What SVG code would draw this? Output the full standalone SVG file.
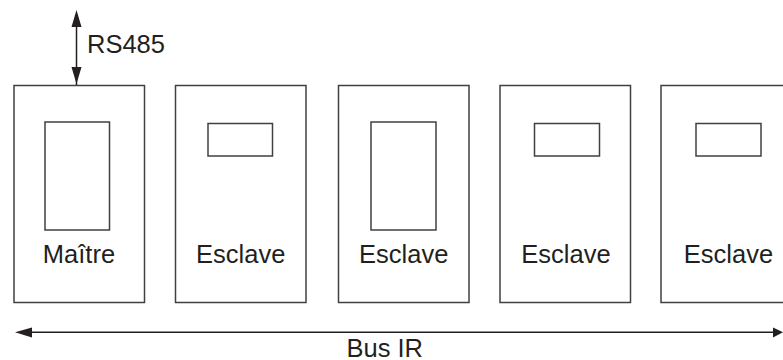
<svg xmlns="http://www.w3.org/2000/svg" width="783" height="360" viewBox="0 0 783 360">
<style>
.box{fill:#fff;stroke:#404040;stroke-width:1.5}
.lbl{font-family:"Liberation Sans",Arial,sans-serif;font-size:25.5px;fill:#231f20}
.ln{stroke:#231f20;stroke-width:1.5;fill:none}
.ah{fill:#231f20;stroke:none}
</style>
<rect width="783" height="360" fill="#fff"/>
<g id="master">
<rect class="box" x="14" y="85.5" width="130.5" height="217"/>
<rect class="box" x="45" y="122" width="64.5" height="108"/>
<text class="lbl" x="79" y="262.5" text-anchor="middle">Maître</text>
</g>
<g id="slave1">
<rect class="box" x="175.5" y="85.5" width="130.5" height="217"/>
<rect class="box" x="208" y="123.5" width="64.5" height="32.5"/>
<text class="lbl" x="240.7" y="262.5" text-anchor="middle">Esclave</text>
</g>
<g id="slave2">
<rect class="box" x="338.5" y="85.5" width="130.5" height="217"/>
<rect class="box" x="371" y="122" width="65" height="108"/>
<text class="lbl" x="403.7" y="262.5" text-anchor="middle">Esclave</text>
</g>
<g id="slave3">
<rect class="box" x="500" y="85.5" width="130.5" height="217"/>
<rect class="box" x="534.5" y="123.5" width="65" height="32.5"/>
<text class="lbl" x="566" y="262.5" text-anchor="middle">Esclave</text>
</g>
<g id="slave4">
<rect class="box" x="661" y="85.5" width="132" height="217"/>
<rect class="box" x="696" y="123.5" width="65" height="32.5"/>
<text class="lbl" x="728.5" y="262.5" text-anchor="middle">Esclave</text>
</g>
<g id="connectors">
<line class="ln" x1="76.5" y1="14" x2="76.5" y2="85"/>
<polygon class="ah" points="76.5,10 71.5,27 81.5,27"/>
<polygon class="ah" points="76.5,84 71.5,67 81.5,67"/>
<line class="ln" x1="20" y1="332.3" x2="779" y2="332.3"/>
<polygon class="ah" points="15,332.3 32,327.5 32,337.5"/>
<polygon class="ah" points="783,332.3 773,327.5 773,337.5"/>
</g>
<text class="lbl" x="87" y="52.5">RS485</text>
<text class="lbl" x="346.5" y="356.5">Bus IR</text>
</svg>
